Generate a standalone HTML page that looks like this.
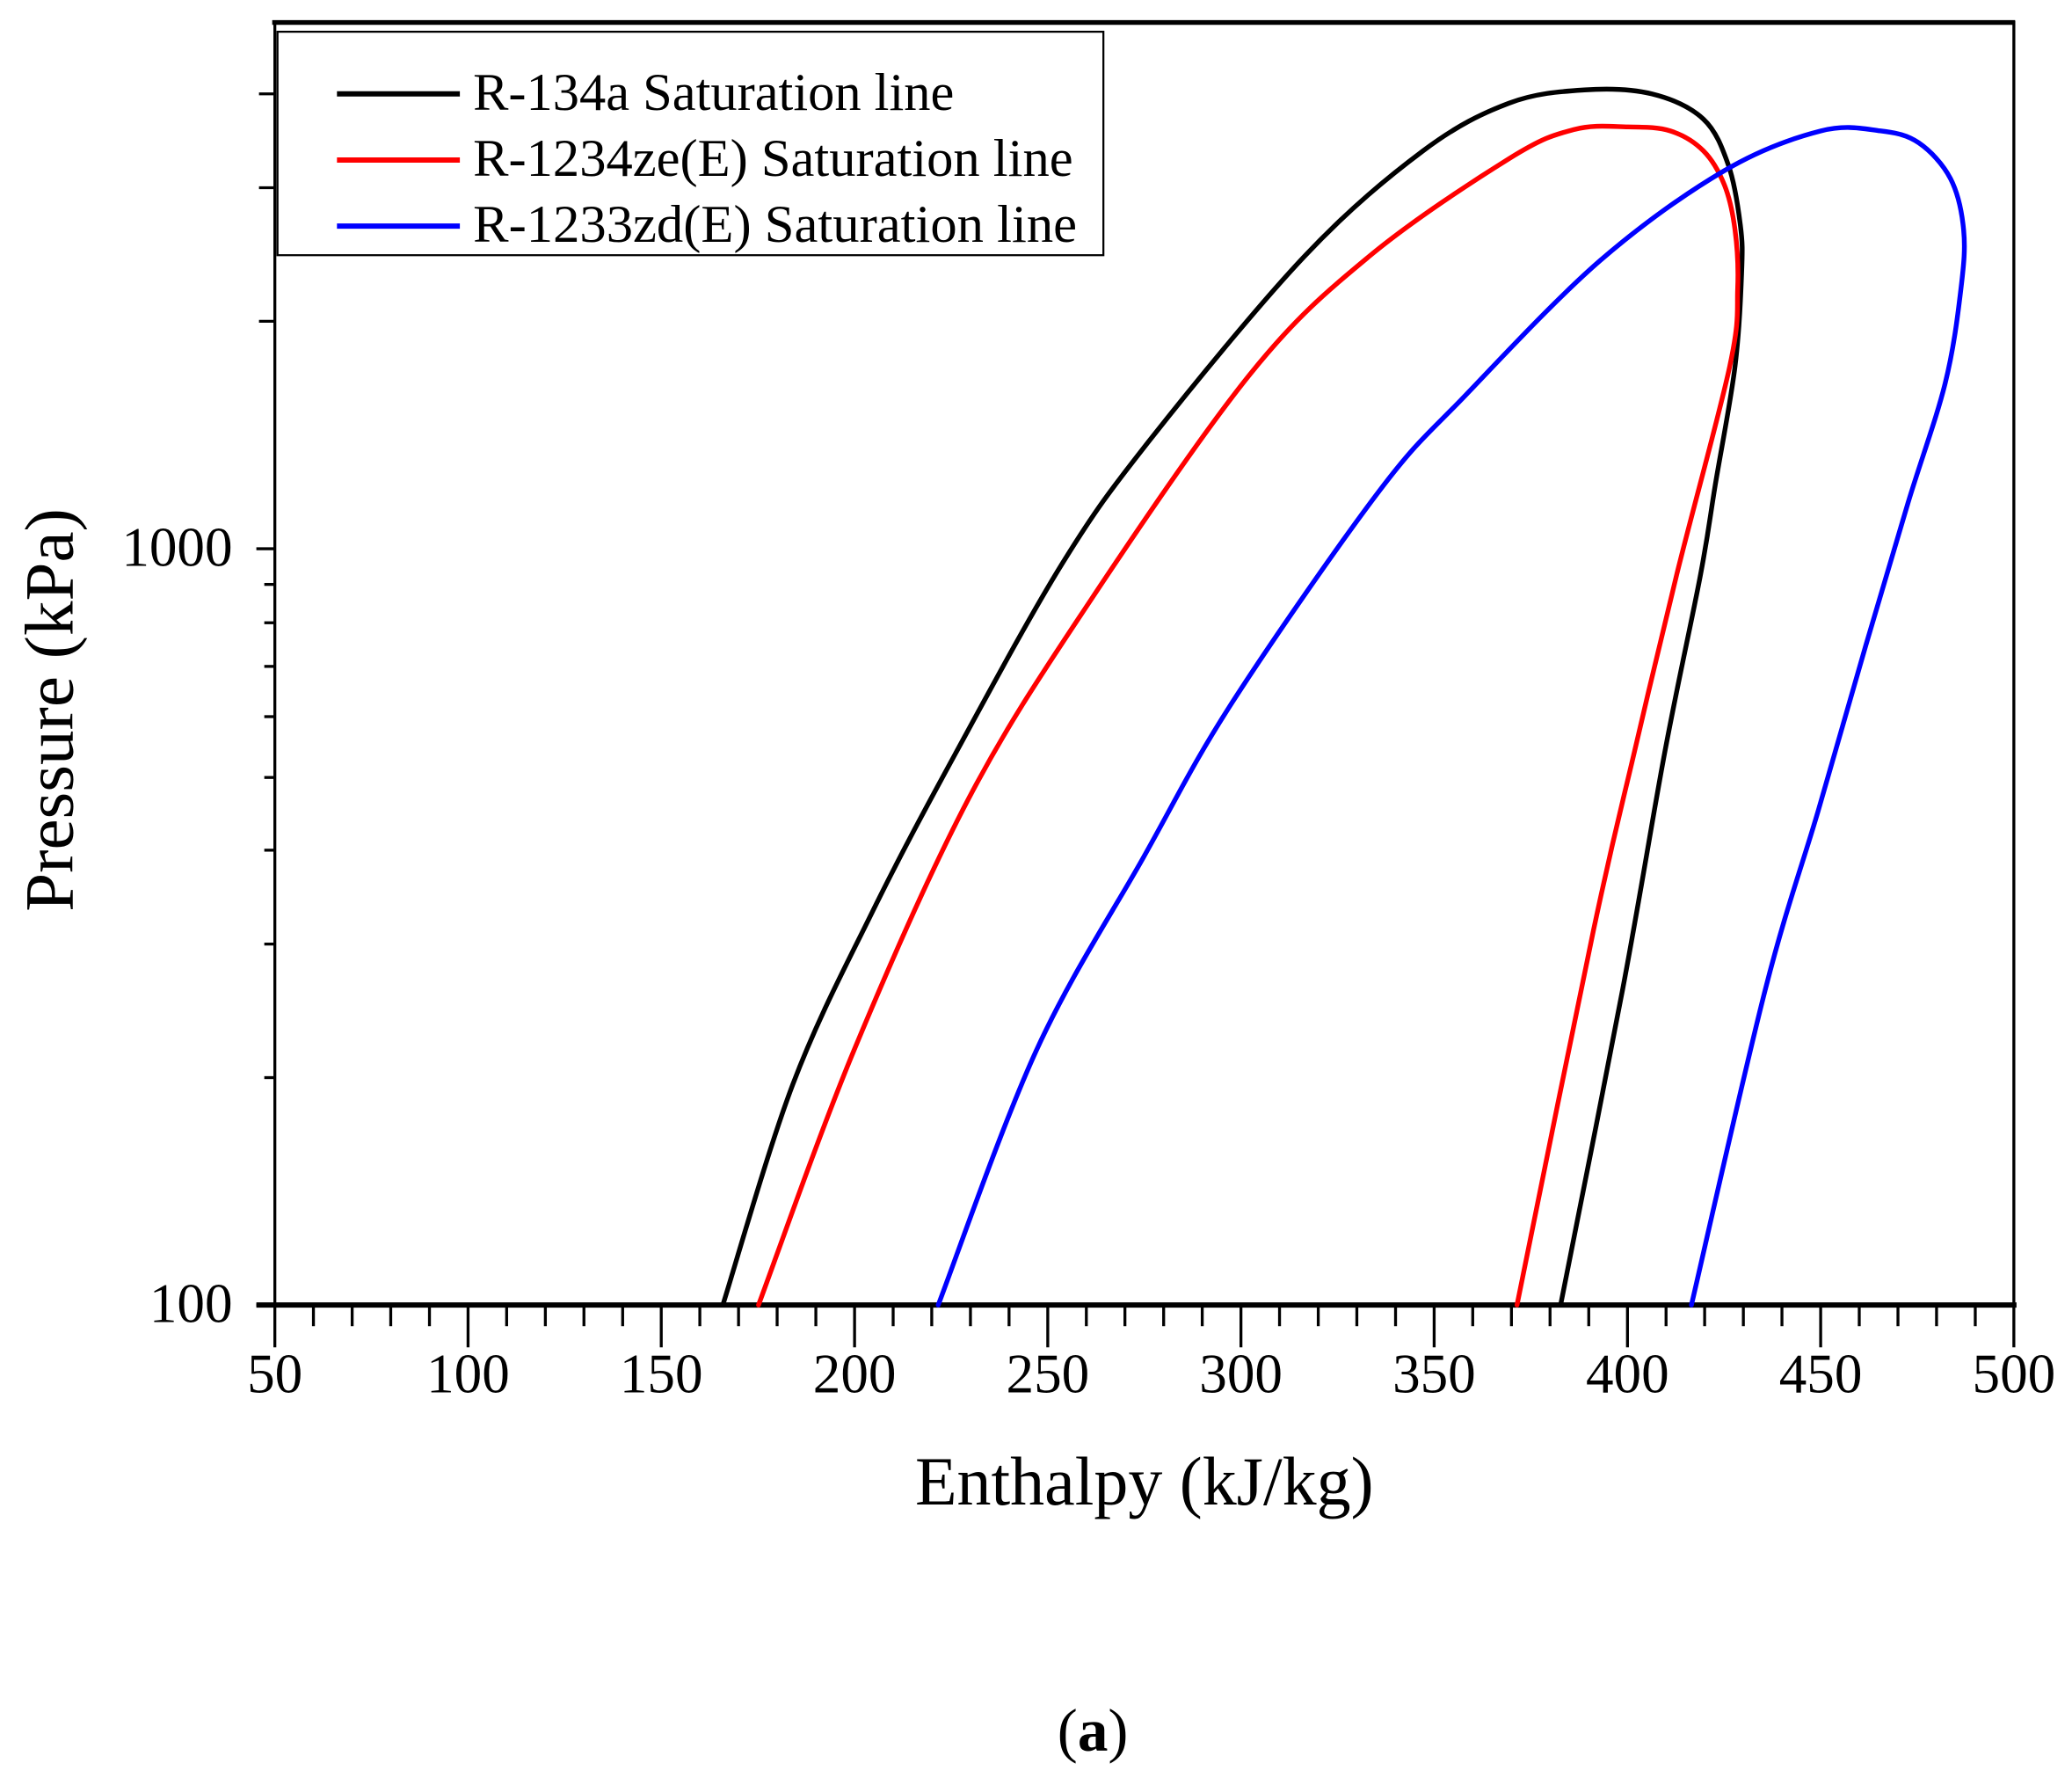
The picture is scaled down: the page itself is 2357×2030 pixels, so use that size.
<!DOCTYPE html>
<html><head><meta charset="utf-8"><style>html,body{margin:0;padding:0;background:#fff}svg{display:block}</style></head>
<body>
<svg width="2357" height="2030" viewBox="0 0 1568 1350" preserveAspectRatio="none" xmlns="http://www.w3.org/2000/svg" font-family="'Liberation Serif', serif">
<rect width="1568" height="1350" fill="#fff"/>
<line x1="206" y1="17" x2="1525" y2="17" stroke="#000" stroke-width="3.5"/>
<line x1="208" y1="16" x2="208" y2="989" stroke="#000" stroke-width="2.2"/>
<line x1="1524" y1="16" x2="1524" y2="989" stroke="#000" stroke-width="2.2"/>
<line x1="194" y1="987" x2="1526" y2="987" stroke="#000" stroke-width="4"/>
<g stroke="#000" stroke-width="2.2">
<line x1="194" y1="987" x2="208" y2="987"/>
<line x1="194" y1="415" x2="208" y2="415"/>
<line x1="200" y1="815" x2="208" y2="815"/>
<line x1="200" y1="714" x2="208" y2="714"/>
<line x1="200" y1="643" x2="208" y2="643"/>
<line x1="200" y1="588" x2="208" y2="588"/>
<line x1="200" y1="542" x2="208" y2="542"/>
<line x1="200" y1="504" x2="208" y2="504"/>
<line x1="200" y1="471" x2="208" y2="471"/>
<line x1="200" y1="442" x2="208" y2="442"/>
<line x1="196" y1="243" x2="208" y2="243"/>
<line x1="196" y1="142" x2="208" y2="142"/>
<line x1="196" y1="71" x2="208" y2="71"/>
<line x1="208" y1="987" x2="208" y2="1019"/><line x1="354.2" y1="987" x2="354.2" y2="1019"/><line x1="500.4" y1="987" x2="500.4" y2="1019"/><line x1="646.7" y1="987" x2="646.7" y2="1019"/><line x1="792.9" y1="987" x2="792.9" y2="1019"/><line x1="939.1" y1="987" x2="939.1" y2="1019"/><line x1="1085.3" y1="987" x2="1085.3" y2="1019"/><line x1="1231.6" y1="987" x2="1231.6" y2="1019"/><line x1="1377.8" y1="987" x2="1377.8" y2="1019"/><line x1="1524" y1="987" x2="1524" y2="1019"/>
<line x1="237.2" y1="987" x2="237.2" y2="1003"/><line x1="266.5" y1="987" x2="266.5" y2="1003"/><line x1="295.7" y1="987" x2="295.7" y2="1003"/><line x1="325" y1="987" x2="325" y2="1003"/>
<line x1="383.4" y1="987" x2="383.4" y2="1003"/><line x1="412.7" y1="987" x2="412.7" y2="1003"/><line x1="441.9" y1="987" x2="441.9" y2="1003"/><line x1="471.2" y1="987" x2="471.2" y2="1003"/>
<line x1="529.6" y1="987" x2="529.6" y2="1003"/><line x1="558.9" y1="987" x2="558.9" y2="1003"/><line x1="588.1" y1="987" x2="588.1" y2="1003"/><line x1="617.4" y1="987" x2="617.4" y2="1003"/>
<line x1="675.9" y1="987" x2="675.9" y2="1003"/><line x1="705.1" y1="987" x2="705.1" y2="1003"/><line x1="734.4" y1="987" x2="734.4" y2="1003"/><line x1="763.6" y1="987" x2="763.6" y2="1003"/>
<line x1="822.1" y1="987" x2="822.1" y2="1003"/><line x1="851.3" y1="987" x2="851.3" y2="1003"/><line x1="880.6" y1="987" x2="880.6" y2="1003"/><line x1="909.8" y1="987" x2="909.8" y2="1003"/>
<line x1="968.3" y1="987" x2="968.3" y2="1003"/><line x1="997.6" y1="987" x2="997.6" y2="1003"/><line x1="1026.8" y1="987" x2="1026.8" y2="1003"/><line x1="1056.1" y1="987" x2="1056.1" y2="1003"/>
<line x1="1114.5" y1="987" x2="1114.5" y2="1003"/><line x1="1143.8" y1="987" x2="1143.8" y2="1003"/><line x1="1173" y1="987" x2="1173" y2="1003"/><line x1="1202.3" y1="987" x2="1202.3" y2="1003"/>
<line x1="1260.8" y1="987" x2="1260.8" y2="1003"/><line x1="1290" y1="987" x2="1290" y2="1003"/><line x1="1319.3" y1="987" x2="1319.3" y2="1003"/><line x1="1348.5" y1="987" x2="1348.5" y2="1003"/>
<line x1="1407" y1="987" x2="1407" y2="1003"/><line x1="1436.3" y1="987" x2="1436.3" y2="1003"/><line x1="1465.5" y1="987" x2="1465.5" y2="1003"/><line x1="1494.8" y1="987" x2="1494.8" y2="1003"/>
</g>
<g font-size="42" fill="#000" text-anchor="middle">
<text x="208" y="1053">50</text><text x="354.2" y="1053">100</text><text x="500.4" y="1053">150</text><text x="646.7" y="1053">200</text><text x="792.9" y="1053">250</text><text x="939.1" y="1053">300</text><text x="1085.3" y="1053">350</text><text x="1231.6" y="1053">400</text><text x="1377.8" y="1053">450</text><text x="1524" y="1053">500</text>
</g>
<g font-size="42" fill="#000" text-anchor="end">
<text x="176" y="1000">100</text><text x="176" y="428">1000</text>
</g>
<text x="866" y="1138" font-size="52" text-anchor="middle" textLength="347" lengthAdjust="spacingAndGlyphs">Enthalpy (kJ/kg)</text>
<text transform="translate(55,537) rotate(-90)" font-size="52" text-anchor="middle" textLength="305" lengthAdjust="spacingAndGlyphs">Pressure (kPa)</text>
<text x="827" y="1324" font-size="46" text-anchor="middle">(<tspan font-weight="bold">a</tspan>)</text>
<g fill="none" stroke-width="3.6" stroke-linejoin="round" stroke-linecap="round" id="curves">
<polyline stroke="#000" points="547,987 600,820 660,690 723,570 804,426 870,333 987,194 1077,114 1142,78 1199,68 1250,71 1289,90 1308,125 1317,170 1318,206 1313,277 1298,367 1287,434 1260,568 1228,748 1181,987"/>
<polyline stroke="#f00" points="574,987 646,795 733,604 824,456 946,283 1036,194 1142,120 1191,98 1232,96 1264,99 1289,114 1305,140 1313,174 1315,218 1309,277 1269,434 1237,568 1206,703 1148,987"/>
<polyline stroke="#00f" points="710,987 784,795 865,649 932,532 1044,371 1109,299 1211,197 1305,129 1378,99 1423,99 1452,108 1476,135 1486,174 1484,218 1472,290 1444,380 1412,488 1376,613 1336,748 1280,987"/>
</g>
<rect x="210" y="24" width="625" height="169" fill="#fff" stroke="#000" stroke-width="1.5"/>
<line x1="255" y1="71" x2="348" y2="71" stroke="#000" stroke-width="4"/>
<line x1="255" y1="121" x2="348" y2="121" stroke="#f00" stroke-width="4"/>
<line x1="255" y1="171" x2="348" y2="171" stroke="#00f" stroke-width="4"/>
<g font-size="40" fill="#000">
<text x="358" y="83" textLength="364" lengthAdjust="spacingAndGlyphs">R-134a Saturation line</text>
<text x="358" y="133" textLength="454" lengthAdjust="spacingAndGlyphs">R-1234ze(E) Saturation line</text>
<text x="358" y="183" textLength="457" lengthAdjust="spacingAndGlyphs">R-1233zd(E) Saturation line</text>
</g>
</svg>
<script>
(function(){
var g=document.getElementById('curves');
var pls=g.querySelectorAll('polyline');
for(var k=0;k<pls.length;k++){
var pl=pls[k];var ps=pl.getAttribute('points').trim().split(/\s+/).map(function(s){var a=s.split(',');return [+a[0],+a[1]];});
var d='M'+ps[0][0]+','+ps[0][1];
for(var i=0;i<ps.length-1;i++){
var p0=ps[i-1]||ps[i],p1=ps[i],p2=ps[i+1],p3=ps[i+2]||p2;
var c1=[p1[0]+(p2[0]-p0[0])/6,p1[1]+(p2[1]-p0[1])/6];
var c2=[p2[0]-(p3[0]-p1[0])/6,p2[1]-(p3[1]-p1[1])/6];
d+=' C'+c1[0].toFixed(1)+','+c1[1].toFixed(1)+' '+c2[0].toFixed(1)+','+c2[1].toFixed(1)+' '+p2[0]+','+p2[1];
}
var p=document.createElementNS('http://www.w3.org/2000/svg','path');
p.setAttribute('d',d);p.setAttribute('stroke',pl.getAttribute('stroke'));
g.replaceChild(p,pl);
}
})();
</script>
</body></html>
